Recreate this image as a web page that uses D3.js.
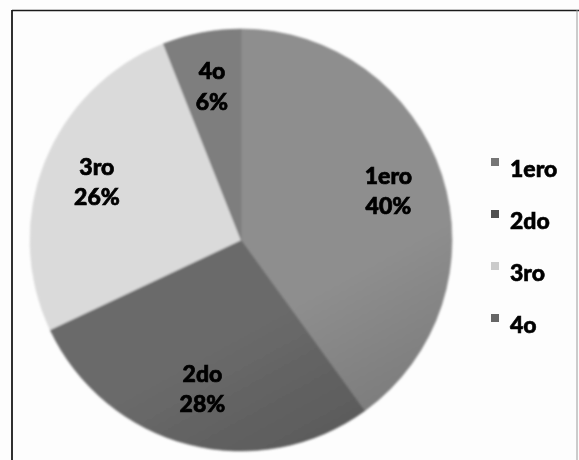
<!DOCTYPE html>
<html>
<head>
<meta charset="utf-8">
<script src="https://cdn.jsdelivr.net/npm/d3@7"></script>
<style>
  html, body { margin: 0; padding: 0; background: #fdfdfd; }
  svg { display: block; }
</style>
</head>
<body>
<svg id="chart" width="579" height="460"></svg>
<script>
// Share of students per place
const categories = ["1ero", "2do", "3ro", "4o"];
const values = [40, 28, 26, 6];
const percentLabels = ["40%", "28%", "26%", "6%"];
// light / dark shade for each slice
const shadeLight = ["#8e8e8e", "#6a6a6a", "#dadada", "#7e7e7e"];
const shadeDark = ["#4f4f4f", "#343434", "#b4b4b4", "#636363"];
const legendColors = ["#757575", "#505050", "#cbcbcb", "#666666"];

const svg = d3.select("#chart");

// frame
svg.append("line").attr("x1", 12).attr("y1", 10.5).attr("x2", 579).attr("y2", 10.5)
  .attr("stroke", "#1a1a1a").attr("stroke-width", 1.6);
svg.append("line").attr("x1", 12).attr("y1", 10).attr("x2", 12).attr("y2", 460)
  .attr("stroke", "#1a1a1a").attr("stroke-width", 1.8);
svg.append("line").attr("x1", 577).attr("y1", 10).attr("x2", 577).attr("y2", 460)
  .attr("stroke", "#9a9a9a").attr("stroke-width", 1);

const cx = 241, cy = 240, R = 211;

const defs = svg.append("defs");
defs.append("filter").attr("id", "soft")
  .attr("x", "-5%").attr("y", "-5%").attr("width", "110%").attr("height", "110%")
  .append("feGaussianBlur").attr("stdDeviation", 1.3);
defs.append("filter").attr("id", "softText")
  .append("feGaussianBlur").attr("stdDeviation", 0.45);

categories.forEach((c, i) => {
  const g = defs.append("linearGradient")
    .attr("id", "grad" + i)
    .attr("gradientUnits", "userSpaceOnUse")
    .attr("x1", cx - 120).attr("y1", cy - R)
    .attr("x2", cx + 110).attr("y2", cy + R);
  g.append("stop").attr("offset", "0%").attr("stop-color", shadeLight[i]);
  g.append("stop").attr("offset", "100%").attr("stop-color", shadeDark[i]);
});

const pie = d3.pie().sort(null).value(d => d.value);
const data = categories.map((c, i) => ({ name: c, value: values[i], pct: percentLabels[i], i }));
const arcs = pie(data);

const arc = d3.arc().innerRadius(0).outerRadius(R);
const labelArc = d3.arc().innerRadius(155).outerRadius(155);

const gPie = svg.append("g").attr("transform", `translate(${cx},${cy})`)
  .attr("filter", "url(#soft)");
gPie.selectAll("path").data(arcs).enter().append("path")
  .attr("d", arc)
  .attr("fill", d => `url(#grad${d.data.i})`)
  .attr("stroke", d => shadeLight[d.data.i])
  .attr("stroke-width", 0.6);

const gLab = svg.append("g").attr("transform", `translate(${cx},${cy})`)
  .attr("filter", "url(#softText)");
const lab = gLab.selectAll("text").data(arcs).enter().append("text")
  .attr("transform", d => { const [x, y] = labelArc.centroid(d); return `translate(${x},${y})`; })
  .attr("text-anchor", "middle")
  .attr("font-family", "Lato, 'Open Sans', sans-serif")
  .attr("font-weight", 900)
  .attr("font-size", 23)
  .attr("fill", "#000")
  .attr("stroke", "#000")
  .attr("stroke-width", 0.7);
lab.append("tspan").attr("x", 0).attr("dy", "-0.36em").text(d => d.data.name);
lab.append("tspan").attr("x", 0).attr("dy", "1.32em").text(d => d.data.pct);

// legend
const legendY = d3.scalePoint().domain(categories).range([170, 326]);
const gLeg = svg.append("g").attr("filter", "url(#softText)");
const item = gLeg.selectAll("g").data(categories).enter().append("g")
  .attr("transform", d => `translate(491,${legendY(d)})`);
item.append("rect").attr("x", 0).attr("y", -12).attr("width", 8).attr("height", 8)
  .attr("fill", (d, i) => legendColors[i]);
item.append("text").attr("x", 19).attr("y", 7)
  .attr("font-family", "Lato, 'Open Sans', sans-serif")
  .attr("font-weight", 900)
  .attr("font-size", 23)
  .attr("fill", "#000")
  .attr("stroke", "#000")
  .attr("stroke-width", 0.6)
  .text(d => d);
</script>
</body>
</html>
